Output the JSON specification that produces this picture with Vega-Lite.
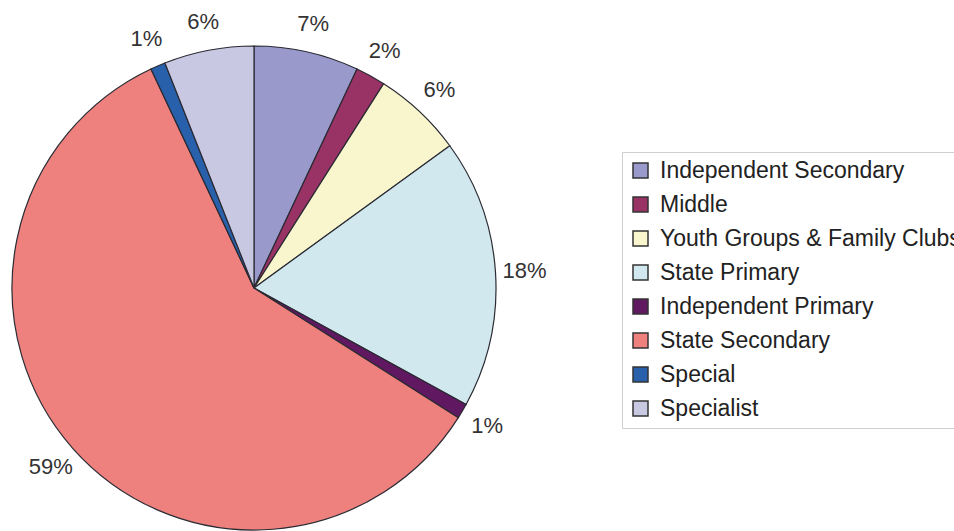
{
  "$schema": "https://vega.github.io/schema/vega-lite/v6.json",
  "autosize": {"type": "none"},
  "width": 508,
  "height": 486,
  "padding": {"top": 45, "left": 0, "right": 446, "bottom": 0},
  "background": "white",
  "data": {
    "values": [
      {"category": "Independent Secondary", "value": 7, "label": "7%", "order": 1},
      {"category": "Middle", "value": 2, "label": "2%", "order": 2},
      {"category": "Youth Groups & Family Clubs", "value": 6, "label": "6%", "order": 3},
      {"category": "State Primary", "value": 18, "label": "18%", "order": 4},
      {"category": "Independent Primary", "value": 1, "label": "1%", "order": 5},
      {"category": "State Secondary", "value": 59, "label": "59%", "order": 6},
      {"category": "Special", "value": 1, "label": "1%", "order": 7},
      {"category": "Specialist", "value": 6, "label": "6%", "order": 8}
    ]
  },
  "encoding": {
    "theta": {"field": "value", "type": "quantitative", "stack": true},
    "order": {"field": "order", "type": "quantitative"}
  },
  "layer": [
    {
      "mark": {"type": "arc", "outerRadius": 242, "stroke": "#2a2a33", "strokeWidth": 1.2},
      "encoding": {
        "color": {
          "field": "category",
          "type": "nominal",
          "sort": null,
          "scale": {
            "domain": ["Independent Secondary", "Middle", "Youth Groups & Family Clubs", "State Primary", "Independent Primary", "State Secondary", "Special", "Specialist"],
            "range": ["#9999CC", "#993366", "#F9F5CC", "#D0E8EE", "#601860", "#EE817D", "#2860AB", "#C9C8E3"]
          },
          "legend": {
            "title": null,
            "orient": "none",
            "legendX": 622,
            "legendY": 107,
            "padding": 7,
            "strokeColor": "#cfcfcf",
            "fillColor": "white",
            "symbolType": "square",
            "symbolSize": 225,
            "symbolStrokeColor": "#333333",
            "symbolStrokeWidth": 1.5,
            "symbolOpacity": 1,
            "labelFont": "Liberation Sans",
            "labelFontSize": 23,
            "labelColor": "#222222",
            "labelOffset": 8,
            "labelLimit": 1000,
            "rowPadding": 10
          }
        }
      }
    },
    {
      "mark": {"type": "text", "radius": 271, "font": "Liberation Sans", "fontSize": 22, "fill": "#333333"},
      "encoding": {
        "text": {"field": "label", "type": "nominal"}
      }
    }
  ]
}
